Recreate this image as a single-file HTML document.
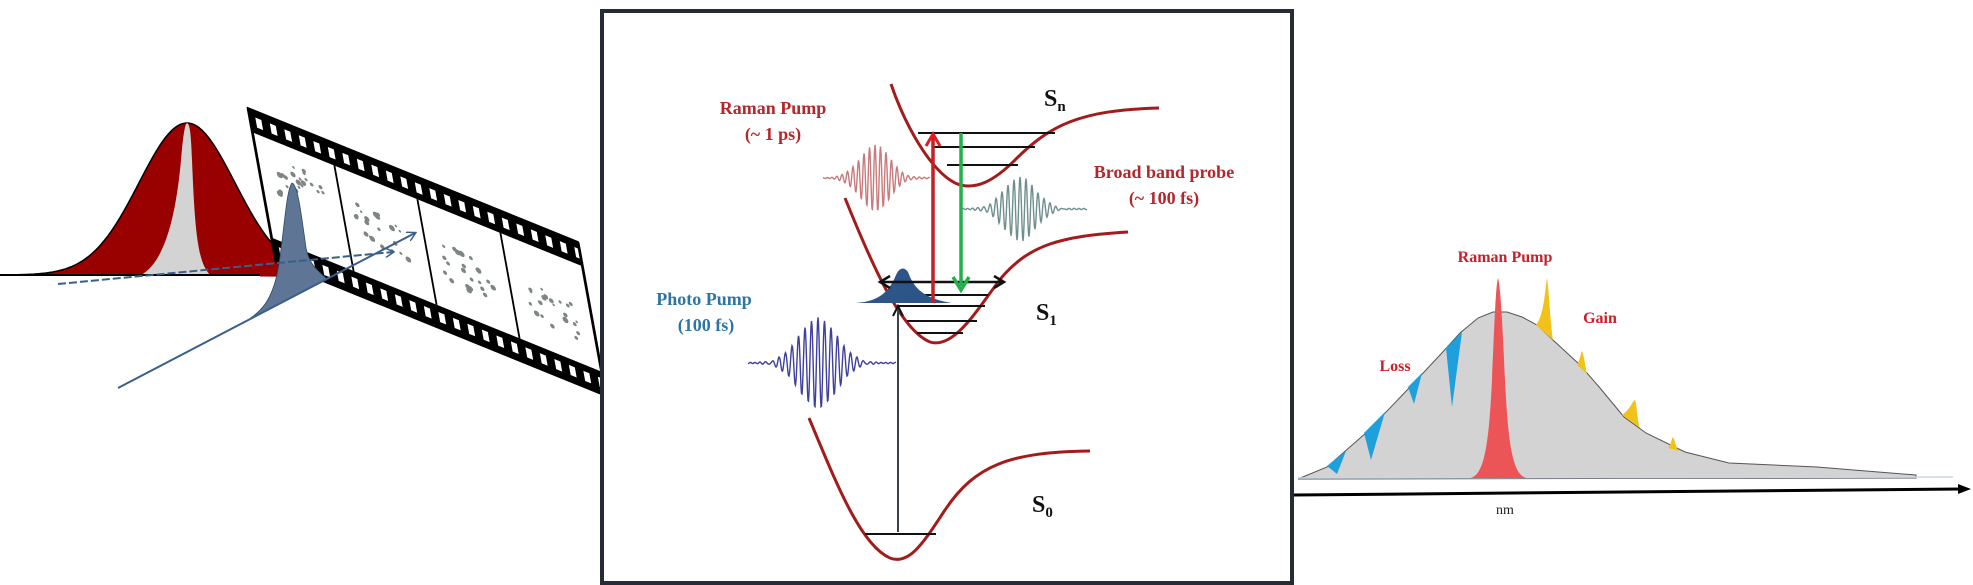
<!DOCTYPE html>
<html><head><meta charset="utf-8">
<style>
html,body{margin:0;padding:0;background:#fff;}
svg{display:block;}
.t{font-family:"Liberation Serif",serif;font-weight:bold;}
</style></head>
<body>
<svg id="s" width="1973" height="585" viewBox="0 0 1973 585" xmlns="http://www.w3.org/2000/svg">
<defs>
<marker id="ab" markerWidth="10" markerHeight="10" refX="8" refY="5" orient="auto" markerUnits="userSpaceOnUse"><path d="M0,0 L9,5 L0,10" fill="none" stroke="#3a5f8a" stroke-width="1.5"/></marker>
</defs>

<!-- LEFT: red gaussian -->
<path id="redg" fill="#990000" stroke="#000" stroke-width="1.5"/>
<path d="M141,275 C165,262 176,215 181,160 C183,135 185,124 187,123 C190,124 191,135 192,160 C195,235 198,262 210,275 Z" fill="#d3d3d3"/>
<line x1="0" y1="275" x2="368" y2="275" stroke="#000" stroke-width="2"/>
<line x1="260" y1="275" x2="368" y2="276" stroke="#990000" stroke-width="3"/>

<!-- film strip -->
<g transform="matrix(1,0.406,0.184,1.013,248,108)">
<rect x="0" y="0" width="330" height="152" fill="#fff" stroke="#000" stroke-width="2"/>
<rect x="0" y="0" width="330" height="24" fill="#000"/>
<rect x="0" y="128" width="330" height="24" fill="#000"/>
<g id="perfs" fill="#fff"></g>
<line x1="82" y1="24" x2="82" y2="128" stroke="#000" stroke-width="2"/>
<line x1="165" y1="24" x2="165" y2="128" stroke="#000" stroke-width="2"/>
<line x1="248" y1="24" x2="248" y2="128" stroke="#000" stroke-width="2"/>
<line x1="0" y1="0" x2="0" y2="152" stroke="#000" stroke-width="3"/>
<line x1="330" y1="0" x2="330" y2="152" stroke="#000" stroke-width="3"/>
<g id="mol" fill="#7d8585"></g>
</g>

<!-- blue gaussian -->
<path d="M243,323 C262,312 272,300 278,270 C284,235 286,190 292,183 C298,184 302,220 306,248 C309,262 314,268 327,279 Z" fill="#5e7596" stroke="#2f4a6a" stroke-width="0.8"/>
<!-- lines -->
<line x1="58" y1="284" x2="393" y2="252" stroke="#3a5f8a" stroke-width="2" stroke-dasharray="8,3" marker-end="url(#ab)"/>
<line x1="118" y1="388" x2="415" y2="233" stroke="#3a5f8a" stroke-width="2" marker-end="url(#ab)"/>

<!-- CENTER BOX -->
<rect x="602" y="11" width="690" height="572" fill="#fff" stroke="#252c35" stroke-width="4"/>

<!-- Sn curve -->
<path d="M891,84 C905,125 930,170 955,183 C975,192 995,180 1015,160 C1050,125 1080,110 1159,108" fill="none" stroke="#a31b1b" stroke-width="3"/>
<g stroke="#111" stroke-width="2">
<line x1="918" y1="133" x2="1055" y2="133"/>
<line x1="933" y1="147" x2="1035" y2="147"/>
<line x1="947" y1="165" x2="1018" y2="165"/>
</g>
<!-- S1 curve -->
<path d="M845,198 C870,260 900,330 930,342 C955,350 980,305 1002,277 C1030,245 1060,236 1128,232" fill="none" stroke="#a31b1b" stroke-width="3"/>
<g stroke="#111" stroke-width="2">
<line x1="883" y1="295" x2="988" y2="295"/>
<line x1="897" y1="306" x2="985" y2="306"/>
<line x1="907" y1="321" x2="977" y2="321"/>
<line x1="917" y1="333" x2="963" y2="333"/>
</g>
<!-- blue population -->
<path d="M855,303 C880,302 890,290 896,275 C899,268 904,266 908,272 C913,285 920,298 952,303 Z" fill="#2d5587"/>
<!-- double arrow -->
<line x1="881" y1="282" x2="1003" y2="282" stroke="#111" stroke-width="2.5"/>
<path d="M890,276 L880,282 L890,288 M994,276 L1004,282 L994,288" fill="none" stroke="#111" stroke-width="2.5"/>
<!-- S0 curve -->
<path d="M809,418 C835,480 860,545 890,558 C910,566 925,540 945,510 C975,465 1010,452 1090,451" fill="none" stroke="#a31b1b" stroke-width="3"/>
<line x1="865" y1="534" x2="936" y2="534" stroke="#111" stroke-width="2"/>
<!-- photo pump vertical arrow -->
<line x1="898" y1="532" x2="898" y2="309" stroke="#3a4250" stroke-width="2"/>
<path d="M893,316 L898,306 L903,316" fill="none" stroke="#111" stroke-width="2"/>
<!-- red arrow -->
<line x1="933" y1="303" x2="933" y2="137" stroke="#c21f26" stroke-width="3.5"/>
<path d="M926,146 L933,134 L940,146" fill="none" stroke="#e01b22" stroke-width="3"/>
<!-- green arrow -->
<line x1="961" y1="133" x2="961" y2="286" stroke="#22b04a" stroke-width="3.5"/>
<path d="M953,277 L961,290 L969,277" fill="none" stroke="#22b04a" stroke-width="3.5"/>

<!-- waves -->
<path id="w1" fill="none" stroke="#c97a7c" stroke-width="1.4"/>
<path id="w2" fill="none" stroke="#6f8e8e" stroke-width="1.4"/>
<path id="w3" fill="none" stroke="#3f3f9e" stroke-width="1.4"/>

<!-- labels -->
<text class="t" x="773" y="114" font-size="18" fill="#b3262b" text-anchor="middle">Raman Pump</text>
<text class="t" x="773" y="140" font-size="18" fill="#b3262b" text-anchor="middle">(~ 1 ps)</text>
<text class="t" x="1164" y="178" font-size="18" fill="#b3262b" text-anchor="middle">Broad band probe</text>
<text class="t" x="1164" y="204" font-size="18" fill="#b3262b" text-anchor="middle">(~ 100 fs)</text>
<text class="t" x="704" y="305" font-size="18" fill="#2e75a3" text-anchor="middle">Photo Pump</text>
<text class="t" x="706" y="331" font-size="18" fill="#2e75a3" text-anchor="middle">(100 fs)</text>
<text class="t" x="1044" y="106" font-size="24" fill="#111">S<tspan font-size="15" dy="5">n</tspan></text>
<text class="t" x="1036" y="320" font-size="24" fill="#111">S<tspan font-size="15" dy="5">1</tspan></text>
<text class="t" x="1032" y="512" font-size="24" fill="#111">S<tspan font-size="15" dy="5">0</tspan></text>

<!-- RIGHT spectrum -->
<path d="M1298,479 L1327,467 L1367,432 L1410,387 L1440,355 L1460,333 L1478,318 L1493,312 L1507,312 L1522,317 L1537,325 L1553,340 L1580,365 L1600,388 L1624,417 L1646,433 L1685,452 L1729,463 L1817,467 L1916,475 L1916,478 L1298,479 Z" fill="#d3d3d3" stroke="#555" stroke-width="1"/>
<line x1="1298" y1="478" x2="1953" y2="477" stroke="#c8d8e8" stroke-width="1.5"/>
<g fill="#1ea0dc">
<path d="M1327,466 L1346,451 L1337,474 Z"/>
<path d="M1364,433 L1385,412 L1371,460 Z"/>
<path d="M1408,387 L1422,373 L1414,404 Z"/>
<path d="M1446,348 L1462,332 L1452,407 Z"/>
</g>
<g fill="#f2c21a">
<path d="M1536,325 C1544,315 1545,290 1547,278 C1549,290 1550,320 1553,340 Z"/>
<path d="M1577,365 C1580,360 1581,352 1582,351 C1584,355 1585,365 1587,374 Z"/>
<path d="M1622,415 C1630,410 1633,400 1635,400 C1637,405 1637,420 1640,428 Z"/>
<path d="M1668,448 C1671,445 1672,437 1673,437 C1675,440 1676,448 1679,451 Z"/>
</g>
<path d="M1470,478 C1485,476 1489,440 1492,380 C1495,310 1496,285 1498,278 C1500,285 1502,310 1505,380 C1508,440 1512,476 1527,478 Z" fill="#ec5558"/>
<line x1="1294" y1="495" x2="1962" y2="489" stroke="#000" stroke-width="3"/>
<path d="M1958,484 L1971,489 L1958,494 Z" fill="#000"/>
<text class="t" x="1505" y="262" font-size="16" fill="#c8202a" text-anchor="middle">Raman Pump</text>
<text class="t" x="1600" y="323" font-size="16" fill="#c8202a" text-anchor="middle">Gain</text>
<text class="t" x="1395" y="371" font-size="16" fill="#c8202a" text-anchor="middle">Loss</text>
<text x="1505" y="514" font-size="14" fill="#222" text-anchor="middle" font-family="Liberation Serif,serif">nm</text>
</svg>
<script>
(function(){
function g(x,c,s){return Math.exp(-(x-c)*(x-c)/(2*s*s));}
var d="";for(var x=0;x<=370;x+=2){var y=275-152*g(x,187,48);d+=(x?"L":"M")+x+","+y.toFixed(1);}
d+="L370,275 L0,275Z";document.getElementById("redg").setAttribute("d",d);
function wave(id,x0,x1,cy,amp,c,s,per){var p="";for(var x=x0;x<=x1;x+=0.5){var y=cy-amp*g(x,c,s)*Math.sin(2*Math.PI*(x-c)/per+Math.PI/2)-0.6*Math.sin(x*1.3);p+=(x==x0?"M":"L")+x+","+y.toFixed(1);}document.getElementById(id).setAttribute("d",p);}
wave("w1",823,930,178,33,875,15,5.5);
wave("w2",962,1087,209,32,1020,16,6);
wave("w3",748,896,363,45,818,19,6.5);
var pf=document.getElementById("perfs"),ns="http://www.w3.org/2000/svg";
for(var u=6;u<326;u+=14.5){[7,135].forEach(function(v){var r=document.createElementNS(ns,"rect");r.setAttribute("x",u);r.setAttribute("y",v);r.setAttribute("width",6);r.setAttribute("height",10);pf.appendChild(r);});}
var m=document.getElementById("mol");
var cl=[[40,60],[120,75],[205,80],[290,85]];
var seed=7;function rnd(){seed=(seed*9301+49297)%233280;return seed/233280;}
cl.forEach(function(c){for(var i=0;i<22;i++){var e=document.createElementNS(ns,"circle");e.setAttribute("cx",c[0]+(rnd()-0.5)*50);e.setAttribute("cy",c[1]+(rnd()-0.5)*40);e.setAttribute("r",1.2+rnd()*1.8);m.appendChild(e);}});
})();
</script>
</body></html>
